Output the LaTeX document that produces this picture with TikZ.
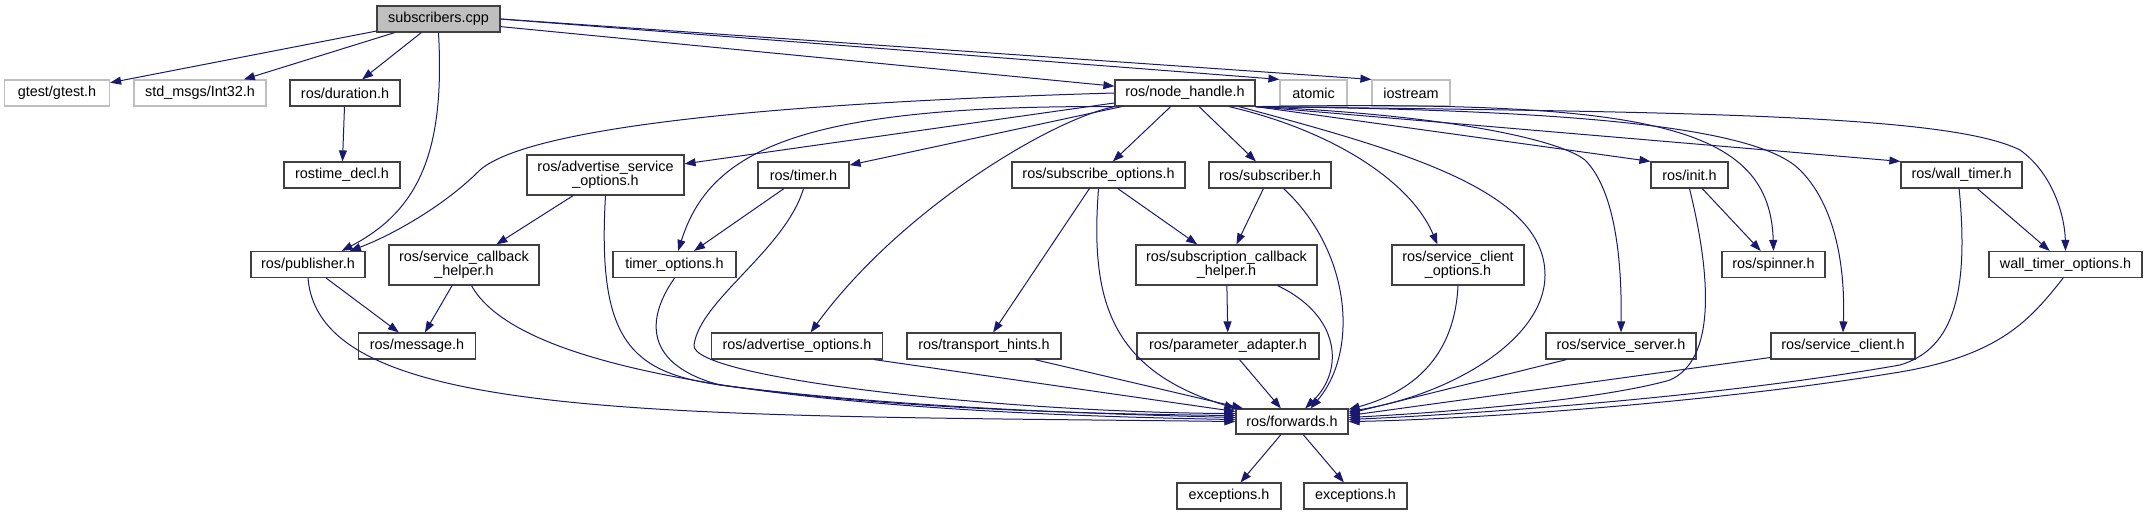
\documentclass[tikz,border=0pt]{standalone}
\usepackage{fontspec}
\setmainfont{Liberation Sans}
\usetikzlibrary{arrows.meta}
\definecolor{edgeblue}{HTML}{191970}
\definecolor{boxgray}{HTML}{BFBFBF}
\definecolor{boxline}{HTML}{404040}
\tikzset{
  hdr/.style={draw=boxline,fill=white,line width=0.6pt,inner sep=0pt,minimum height=13pt,align=center,font=\fontsize{7.2}{7.2}\selectfont},
  ext/.style={hdr,draw=boxgray},
  two/.style={minimum height=20pt},
  dep/.style={->,draw=edgeblue,line width=0.5pt}
}
\begin{document}
\begin{tikzpicture}[x=0.5pt,y=-0.5pt,>={Triangle[length=5.5pt,width=4pt]}]
\useasboundingbox (0,0) rectangle (2147,515);

\node [hdr,fill=boxgray,minimum width=61.5pt](main) at (438.5,19){subscribers.cpp};

\node [ext,minimum width=52.5pt](gtest) at (57,93){gtest/gtest.h};
\node [ext,minimum width=66pt](std) at (200,93){std\_msgs/Int32.h};
\node [hdr,minimum width=55pt](dur) at (345,93){ros/duration.h};
\node [hdr,minimum width=70pt](nh) at (1185,93){ros/node\_handle.h};
\node [ext,minimum width=33.5pt](atomic) at (1313.5,93){atomic};
\node [ext,minimum width=39pt](iostream) at (1411,93){iostream};

\node [hdr,minimum width=58pt](rtd) at (342,175){rostime\_decl.h};
\node [hdr,two,minimum width=78.5pt](aso) at (605.5,175){ros/advertise\_service\\\_options.h};
\node [hdr,minimum width=45.5pt](timer) at (803.5,175){ros/timer.h};
\node [hdr,minimum width=86.5pt](subopt) at (1098.5,175){ros/subscribe\_options.h};
\node [hdr,minimum width=61pt](sub) at (1270,175){ros/subscriber.h};
\node [hdr,minimum width=38.5pt](init) at (1689.5,175){ros/init.h};
\node [hdr,minimum width=60.5pt](wt) at (1961.5,175){ros/wall\_timer.h};

\node [hdr,minimum width=57pt](pub) at (308,264.5){ros/publisher.h};
\node [hdr,two,minimum width=75pt](scb) at (464,265){ros/service\_callback\\\_helper.h};
\node [hdr,minimum width=61.5pt](topt) at (674.5,264.5){timer\_options.h};
\node [hdr,two,minimum width=90.5pt](sch) at (1226.5,265){ros/subscription\_callback\\\_helper.h};
\node [hdr,two,minimum width=66pt](sco) at (1458,265){ros/service\_client\\\_options.h};
\node [hdr,minimum width=51.5pt](spin) at (1773.5,264.5){ros/spinner.h};
\node [hdr,minimum width=76.5pt](wto) at (2065.5,264.5){wall\_timer\_options.h};

\node [hdr,minimum width=58.5pt](msg) at (417,346){ros/message.h};
\node [hdr,minimum width=85.5pt](advo) at (797,346){ros/advertise\_options.h};
\node [hdr,minimum width=77pt](trans) at (984,346){ros/transport\_hints.h};
\node [hdr,minimum width=91pt](param) at (1228,346){ros/parameter\_adapter.h};
\node [hdr,minimum width=75pt](srv) at (1621,346){ros/service\_server.h};
\node [hdr,minimum width=72pt](cli) at (1843,346){ros/service\_client.h};

\node [hdr,minimum height=12.5pt,minimum width=56pt](fwd) at (1292,421.5){ros/forwards.h};
\node [hdr,minimum width=52pt](exc1) at (1229,496){exceptions.h};
\node [hdr,minimum width=51.5pt](exc2) at (1355.5,496){exceptions.h};

\draw[dep] (main) -- (gtest);
\draw[dep] (main) -- (std);
\draw[dep] (main) -- (dur);
\draw[dep] (main.south) .. controls (445,150) and (420,210) .. (pub.22);
\draw[dep] (main.-7) -- (nh);
\draw[dep] (main.east) -- (atomic.north west);
\draw[dep] (main.east) -- (iostream.north west);
\draw[dep] (dur) -- (rtd);

\draw[dep] (nh.west) .. controls (700,105) and (520,135) .. (480,170) .. controls (440,210) and (385,238) .. (pub.18);
\draw[dep] (nh) -- (aso);
\draw[dep] (nh) -- (timer);
\draw[dep] (nh.south west) .. controls (800,105) and (710,150) .. (topt.75);
\draw[dep] (nh.south west) .. controls (1050,120) and (900,210) .. (advo.45);
\draw[dep] (nh) -- (subopt);
\draw[dep] (nh) -- (sub);
\draw[dep] ([xshift=22pt]nh.south) .. controls (1330,130) and (1410,180) .. (sco.135);
\draw[dep] ([xshift=27pt]nh.south) .. controls (1400,150) and (1545,190) .. (1545,275) .. controls (1545,340) and (1450,395) .. (fwd.10);
\draw[dep] (nh.south east) .. controls (1450,115) and (1560,140) .. (1585,160) .. controls (1615,190) and (1622,260) .. (srv.north);
\draw[dep] (nh.south east) -- (init.north west);
\draw[dep] (nh.south east) .. controls (1650,100) and (1770,125) .. (spin.north);
\draw[dep] (nh.south east) .. controls (1600,110) and (1760,130) .. (1800,170) .. controls (1840,210) and (1845,280) .. (cli.north);
\draw[dep] (nh.south east) -- (wt.north west);
\draw[dep] (nh.south east) .. controls (1700,112) and (1950,115) .. (2020,150) .. controls (2055,175) and (2065,220) .. (wto.north);

\draw[dep] (aso) -- (scb);
\draw[dep] (aso.south) .. controls (597,340) and (630,372) .. (720,385) .. controls (900,408) and (1100,414) .. (fwd.176);
\draw[dep] (timer) -- (topt);
\draw[dep] (timer.south) .. controls (785,250) and (700,300) .. (694,345) .. controls (690,378) and (1000,412) .. (fwd.172);
\draw[dep] (topt.south) .. controls (645,320) and (645,365) .. (720,385) .. controls (900,410) and (1100,414) .. (fwd.174);
\draw[dep] (pub) -- (msg);
\draw[dep] (pub.south) .. controls (320,420) and (650,415) .. (fwd.180);
\draw[dep] (scb) -- (msg);
\draw[dep] (scb.-70) .. controls (510,355) and (700,410) .. (fwd.178);
\draw[dep] (advo.-10) -- (fwd.170);
\draw[dep] (subopt) -- (trans);
\draw[dep] (subopt) -- (sch);
\draw[dep] (subopt.south) .. controls (1090,300) and (1110,370) .. (fwd.north west);
\draw[dep] (trans.-15) -- (fwd.165);
\draw[dep] (sub) -- (sch);
\draw[dep] (sub.-45) .. controls (1350,250) and (1360,350) .. (fwd.35);
\draw[dep] (sch) -- (param);
\draw[dep] (sch.-22) .. controls (1340,315) and (1345,370) .. (fwd.45);
\draw[dep] (param) -- (fwd);
\draw[dep] (sco.south) .. controls (1455,350) and (1420,390) .. (fwd.12);
\draw[dep] (srv.-166) -- (fwd.8);
\draw[dep] (cli.-171) -- (fwd.6);
\draw[dep] (init) -- (spin);
\draw[dep] (init.south) .. controls (1712,280) and (1715,360) .. (1670,380) .. controls (1600,400) and (1450,412) .. (fwd.4);
\draw[dep] (wt) -- (wto);
\draw[dep] (wt.-100) .. controls (1970,300) and (1950,350) .. (1900,365) .. controls (1700,400) and (1450,415) .. (fwd.2);
\draw[dep] (wto.-100) .. controls (2030,320) and (2000,355) .. (1900,372) .. controls (1700,405) and (1450,420) .. (fwd.0);
\draw[dep] (fwd) -- (exc1);
\draw[dep] (fwd) -- (exc2);
\end{tikzpicture}
\end{document}
